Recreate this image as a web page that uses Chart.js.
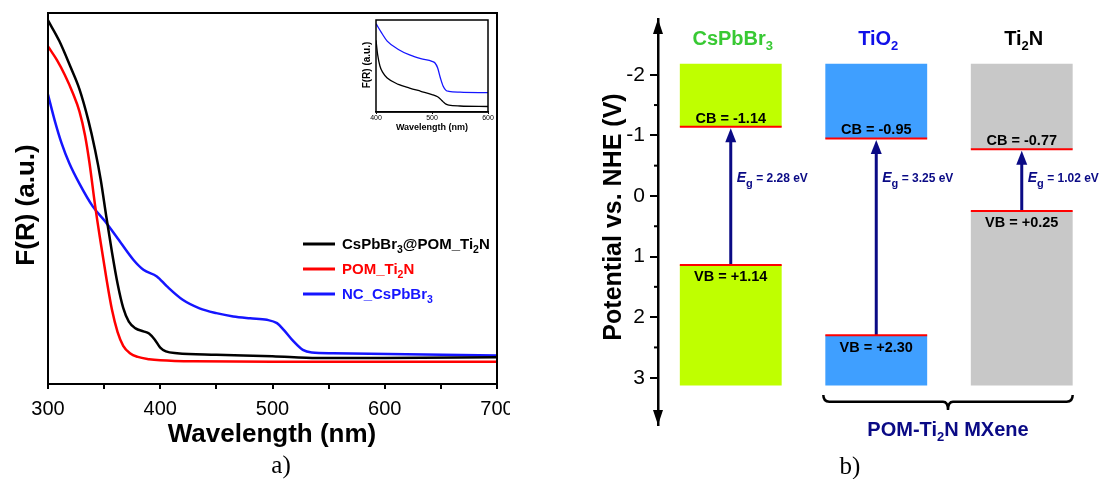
<!DOCTYPE html>
<html>
<head>
<meta charset="utf-8">
<script src="https://cdn.jsdelivr.net/npm/chart.js@4.4.1/dist/chart.umd.min.js"></script>
<style>
  html, body { margin: 0; padding: 0; background: #fff; }
  body { width: 1099px; height: 479px; position: relative; overflow: hidden; }
  canvas { position: absolute; }
  #a { left: 0; top: 0; }
  #inset { left: 355px; top: 15px; }
  #b { left: 590px; top: 0; }
</style>
</head>
<body>
<canvas id="a" width="510" height="479"></canvas>
<canvas id="inset" width="140" height="122"></canvas>
<canvas id="b" width="509" height="479"></canvas>
<script>
// ---- panel a: F(R) spectra, [wavelength nm, F(R) a.u.]
const COMPOSITE = [[300,98],[310,92.5],[320,85.5],[328,79.5],[336,71],[342,63],[347,55],[352,45],[357,35.5],[362,27],[367,20.5],[372,16.8],[378,15],[385,14.2],[390,13.6],[395,12],[400,9.8],[405,8.8],[415,8.3],[450,7.9],[500,7.5],[540,7.0],[600,7.0],[700,7.2]];
const POM_TI2N = [[300,91],[308,87.3],[315,83.3],[322,78.5],[328,73.5],[333,67],[337,59.5],[342,48],[347,38],[352,28.5],[357,20],[362,14],[367,10.3],[373,8.3],[380,7.3],[390,6.7],[400,6.4],[430,6.1],[500,6.0],[700,6.0]];
const NC_CSPBBR3 = [[300,78],[306,71],[312,65],[319,59.5],[328,54],[340,47.8],[351,43.8],[361,39.7],[376,33.5],[385,30.8],[397,29],[406,26.3],[420,22.7],[435,20.4],[450,19.1],[465,18.2],[480,17.7],[495,17.3],[504,16.4],[510,14.6],[519,11.4],[527,9.2],[535,8.5],[554,8.3],[700,7.7]];
const SERIES_NAMES = ['CsPbBr~3@POM_Ti~2N', 'POM_Ti~2N', 'NC_CsPbBr~3'];
const SERIES_COLORS = ['#000000', '#ff0000', '#1515ff'];

// inset (400-600 nm)
const INSET_COMPOSITE = [[400,78],[403,62],[407,50],[412,43],[420,37],[440,30],[460,26],[480,22.5],[500,19],[510,16.5],[515,14],[520,11],[525,8.5],[530,7.5],[550,6.5],[600,6]];
const INSET_NC = [[400,96],[410,86],[420,77],[440,68],[460,62],[480,58],[500,55],[505,53.5],[510,48],[515,37],[520,28],[525,23.5],[530,22.5],[550,21.5],[600,21]];

// ---- panel b: band positions (V vs NHE)
const MATERIALS = ['CsPbBr~3', 'TiO~2', 'Ti~2N'];
const CB = [-1.14, -0.95, -0.77];
const VB = [1.14, 2.30, 0.25];
const EG = [2.28, 3.25, 1.02];
const BAND_LIMITS = [-2.18, 3.13];
const Y_TICKS = [-2, -1, 0, 1, 2, 3];
const Y_MINOR = [-1.5, -0.5, 0.5, 1.5, 2.5];
const BAND_COLORS = ['#bfff00', '#3f9fff', '#c8c8c8'];
const TITLE_COLORS = ['#38c933', '#1010e8', '#000000'];

const FAMILY = '"Liberation Sans", Arial, sans-serif';
const NAVY = '#0a0a85';

// "~" = next char subscript, "*" = next char italic
function segs(str) {
  const out = [];
  for (let i = 0; i < str.length; i++) {
    let ch = str[i], kind = 'n';
    if (ch === '~') { kind = 's'; ch = str[++i]; }
    else if (ch === '*') { kind = 'i'; ch = str[++i]; }
    const last = out[out.length - 1];
    if (last && last.kind === kind) last.t += ch; else out.push({ t: ch, kind });
  }
  return out;
}

function drawRich(ctx, str, x, y, o) {
  const w8 = o.weight || 'bold';
  const fontFor = k => k === 's' ? `${w8} ${o.sub || o.size * 0.68}px ${FAMILY}`
    : k === 'i' ? `italic ${w8} ${o.isize || o.size}px ${FAMILY}`
    : `${w8} ${o.size}px ${FAMILY}`;
  const parts = segs(str);
  let w = 0;
  parts.forEach(p => { ctx.font = fontFor(p.kind); p.w = ctx.measureText(p.t).width; w += p.w; });
  let cx = o.align === 'center' ? x - w / 2 : x;
  ctx.save();
  ctx.fillStyle = o.color || '#000';
  ctx.textAlign = 'left';
  ctx.textBaseline = 'alphabetic';
  parts.forEach(p => {
    ctx.font = fontFor(p.kind);
    ctx.fillText(p.t, cx, y + (p.kind === 's' ? (o.drop || o.size * 0.3) : 0));
    cx += p.w;
  });
  ctx.restore();
}

const xy = arr => arr.map(([x, y]) => ({ x, y }));

// ---------- panel a ----------
const panelA = {
  id: 'panelA',
  afterDraw(chart) {
    const { ctx, chartArea: ca } = chart;
    ctx.save();
    ctx.strokeStyle = '#000';
    ctx.lineWidth = 2;
    ctx.strokeRect(ca.left, ca.top, ca.right - ca.left, ca.bottom - ca.top);
    // legend
    SERIES_NAMES.forEach((name, i) => {
      const y = 244 + i * 25;
      ctx.strokeStyle = SERIES_COLORS[i];
      ctx.lineWidth = 3;
      ctx.beginPath(); ctx.moveTo(303, y); ctx.lineTo(335, y); ctx.stroke();
      drawRich(ctx, name, 342, y + 5.4, { size: 15, sub: 10.5, drop: 4, color: SERIES_COLORS[i] });
    });
    drawRich(ctx, 'Wavelength (nm)', 272, 442, { size: 26, align: 'center' });
    ctx.translate(25, 205);
    ctx.rotate(-Math.PI / 2);
    drawRich(ctx, 'F(R) (a.u.)', 0, 9.4, { size: 26, align: 'center' });
    ctx.restore();
    ctx.save();
    ctx.font = '25px "Liberation Serif", serif';
    ctx.fillStyle = '#000';
    ctx.textAlign = 'center';
    ctx.fillText('a)', 281, 473);
    ctx.restore();
  }
};

new Chart(document.getElementById('a'), {
  type: 'line',
  data: {
    datasets: [COMPOSITE, POM_TI2N, NC_CSPBBR3].map((d, i) => ({
      data: xy(d), borderColor: SERIES_COLORS[i], borderWidth: 2.5
    }))
  },
  options: {
    responsive: false,
    animation: false,
    layout: { padding: { left: 48, top: 13, right: 13, bottom: 0 } },
    plugins: { legend: { display: false }, tooltip: { enabled: false } },
    elements: { point: { radius: 0 }, line: { cubicInterpolationMode: 'monotone' } },
    scales: {
      x: {
        type: 'linear', min: 300, max: 700,
        ticks: { stepSize: 50, autoSkip: false, maxRotation: 0, padding: 8, color: '#000',
          font: { family: FAMILY, size: 20 }, callback: v => (v % 100 === 0 ? v : '') },
        grid: { drawOnChartArea: false, tickLength: 5, color: '#000', lineWidth: 2 },
        border: { color: '#000', width: 2 },
        afterFit: s => { s.height = 95; s.paddingLeft = 0; s.paddingRight = 0; }
      },
      y: { display: false, min: 0, max: 100 }
    }
  },
  plugins: [panelA]
});

// ---------- inset ----------
const insetDeco = {
  id: 'insetDeco',
  afterDraw(chart) {
    const { ctx, chartArea: ca } = chart;
    ctx.save();
    ctx.strokeStyle = '#000';
    ctx.lineWidth = 1.5;
    ctx.strokeRect(ca.left, ca.top, ca.right - ca.left, ca.bottom - ca.top);
    ctx.restore();
    drawRich(ctx, 'Wavelength (nm)', 77, 115, { size: 9, align: 'center' });
    ctx.save();
    ctx.translate(11, 50);
    ctx.rotate(-Math.PI / 2);
    drawRich(ctx, 'F(R) (a.u.)', 0, 3.6, { size: 10, align: 'center' });
    ctx.restore();
  }
};

new Chart(document.getElementById('inset'), {
  type: 'line',
  data: {
    datasets: [
      { data: xy(INSET_COMPOSITE), borderColor: '#000', borderWidth: 1.3 },
      { data: xy(INSET_NC), borderColor: '#1515ff', borderWidth: 1.3 }
    ]
  },
  options: {
    responsive: false,
    animation: false,
    layout: { padding: { left: 21, top: 5, right: 7, bottom: 0 } },
    plugins: { legend: { display: false }, tooltip: { enabled: false } },
    elements: { point: { radius: 0 }, line: { cubicInterpolationMode: 'monotone' } },
    scales: {
      x: {
        type: 'linear', min: 400, max: 600,
        ticks: { stepSize: 100, maxRotation: 0, padding: 0, color: '#000', font: { family: FAMILY, size: 7 } },
        grid: { drawOnChartArea: false, tickLength: 2, color: '#000', lineWidth: 1 },
        border: { color: '#000', width: 1.5 },
        afterFit: s => { s.height = 25; s.paddingLeft = 0; s.paddingRight = 0; }
      },
      y: { display: false, min: 0, max: 100 }
    }
  },
  plugins: [insetDeco]
});

// ---------- panel b ----------
const bands = {
  id: 'bands',
  afterDatasetsDraw(chart) {
    const { ctx } = chart;
    const ys = chart.scales.y;
    const bars = chart.getDatasetMeta(0).data;
    ctx.save();
    bars.forEach((bar, i) => {
      const { x, width } = bar.getProps(['x', 'width'], true);
      const yCB = ys.getPixelForValue(CB[i]);
      const yVB = ys.getPixelForValue(VB[i]);
      // arrow VB -> CB
      ctx.strokeStyle = NAVY;
      ctx.fillStyle = NAVY;
      ctx.lineWidth = 3;
      const tip = yCB + 1.5, head = 14;
      ctx.beginPath(); ctx.moveTo(x, yVB); ctx.lineTo(x, tip + head - 1); ctx.stroke();
      ctx.beginPath(); ctx.moveTo(x, tip); ctx.lineTo(x - 5.5, tip + head); ctx.lineTo(x + 5.5, tip + head); ctx.closePath(); ctx.fill();
      // band edges
      ctx.strokeStyle = '#ff0000';
      ctx.lineWidth = 2;
      [yCB, yVB].forEach(y => {
        ctx.beginPath(); ctx.moveTo(x - width / 2, y); ctx.lineTo(x + width / 2, y); ctx.stroke();
      });
      drawRich(ctx, 'CB = ' + CB[i].toFixed(2), x, yCB - 4.3, { size: 14.5, align: 'center' });
      drawRich(ctx, 'VB = +' + VB[i].toFixed(2), x, yVB + 16.2, { size: 14.5, align: 'center' });
      drawRich(ctx, '*E~g = ' + EG[i].toFixed(2) + ' eV', x + 6, ys.getPixelForValue(-0.3) + 4.3,
        { size: 12, isize: 14, sub: 11, drop: 5, color: NAVY });
      drawRich(ctx, MATERIALS[i], x + 2, 45.2, { size: 20, sub: 13, drop: 5, align: 'center', color: TITLE_COLORS[i] });
    });
    // minor ticks
    const ax = chart.chartArea.left;
    ctx.strokeStyle = '#000';
    ctx.lineWidth = 2;
    Y_MINOR.forEach(v => {
      const y = ys.getPixelForValue(v);
      ctx.beginPath(); ctx.moveTo(ax - 4, y); ctx.lineTo(ax, y); ctx.stroke();
    });
    // axis arrowheads
    ctx.fillStyle = '#000';
    const top = chart.chartArea.top, bot = chart.chartArea.bottom;
    ctx.beginPath(); ctx.moveTo(ax, top); ctx.lineTo(ax - 5, top + 15); ctx.lineTo(ax + 5, top + 15); ctx.closePath(); ctx.fill();
    ctx.beginPath(); ctx.moveTo(ax, bot); ctx.lineTo(ax - 5, bot - 15); ctx.lineTo(ax + 5, bot - 15); ctx.closePath(); ctx.fill();
    // brace under TiO2 and Ti2N
    const b1 = bars[1].getProps(['x', 'width'], true), b2 = bars[2].getProps(['x', 'width'], true);
    const x1 = b1.x - b1.width / 2 - 2, x2 = b2.x + b2.width / 2;
    const mid = (x1 + x2) / 2, yt = 395, yh = 401.7, yb = 410;
    ctx.strokeStyle = '#000';
    ctx.lineWidth = 2.5;
    ctx.beginPath();
    ctx.moveTo(x1, yt);
    ctx.quadraticCurveTo(x1, yh, x1 + 6, yh);
    ctx.lineTo(mid - 5, yh);
    ctx.quadraticCurveTo(mid, yh, mid, yb);
    ctx.quadraticCurveTo(mid, yh, mid + 5, yh);
    ctx.lineTo(x2 - 6, yh);
    ctx.quadraticCurveTo(x2, yh, x2, yt);
    ctx.stroke();
    drawRich(ctx, 'POM-Ti~2N MXene', mid, 435.5, { size: 20, sub: 13, drop: 5, align: 'center', color: NAVY });
    ctx.restore();
    // axis title
    ctx.save();
    ctx.translate(22, 217);
    ctx.rotate(-Math.PI / 2);
    drawRich(ctx, 'Potential vs. NHE (V)', 0, 9, { size: 25, align: 'center' });
    ctx.restore();
    ctx.save();
    ctx.font = '25px "Liberation Serif", serif';
    ctx.fillStyle = '#000';
    ctx.textAlign = 'center';
    ctx.fillText('b)', 260, 474);
    ctx.restore();
  }
};

const barStyle = { backgroundColor: BAND_COLORS, borderWidth: 0, grouped: false, barPercentage: 0.7, categoryPercentage: 1 };

new Chart(document.getElementById('b'), {
  type: 'bar',
  data: {
    labels: MATERIALS,
    datasets: [
      Object.assign({ data: CB.map(v => [BAND_LIMITS[0], v]) }, barStyle),
      Object.assign({ data: VB.map(v => [v, BAND_LIMITS[1]]) }, barStyle)
    ]
  },
  options: {
    responsive: false,
    animation: false,
    layout: { padding: { left: 0, top: 19, right: 4.5, bottom: 54 } },
    plugins: { legend: { display: false }, tooltip: { enabled: false } },
    scales: {
      x: { display: false },
      y: {
        reverse: true, min: -2.92, max: 3.78,
        afterBuildTicks: s => { s.ticks = Y_TICKS.map(v => ({ value: v })); },
        ticks: { padding: 5, color: '#000', font: { family: FAMILY, size: 21 } },
        grid: { drawOnChartArea: false, tickLength: 8, color: '#000', lineWidth: 2 },
        border: { color: '#000', width: 2.5 },
        afterFit: s => { s.width = 68; }
      }
    }
  },
  plugins: [bands]
});
</script>
</body>
</html>
